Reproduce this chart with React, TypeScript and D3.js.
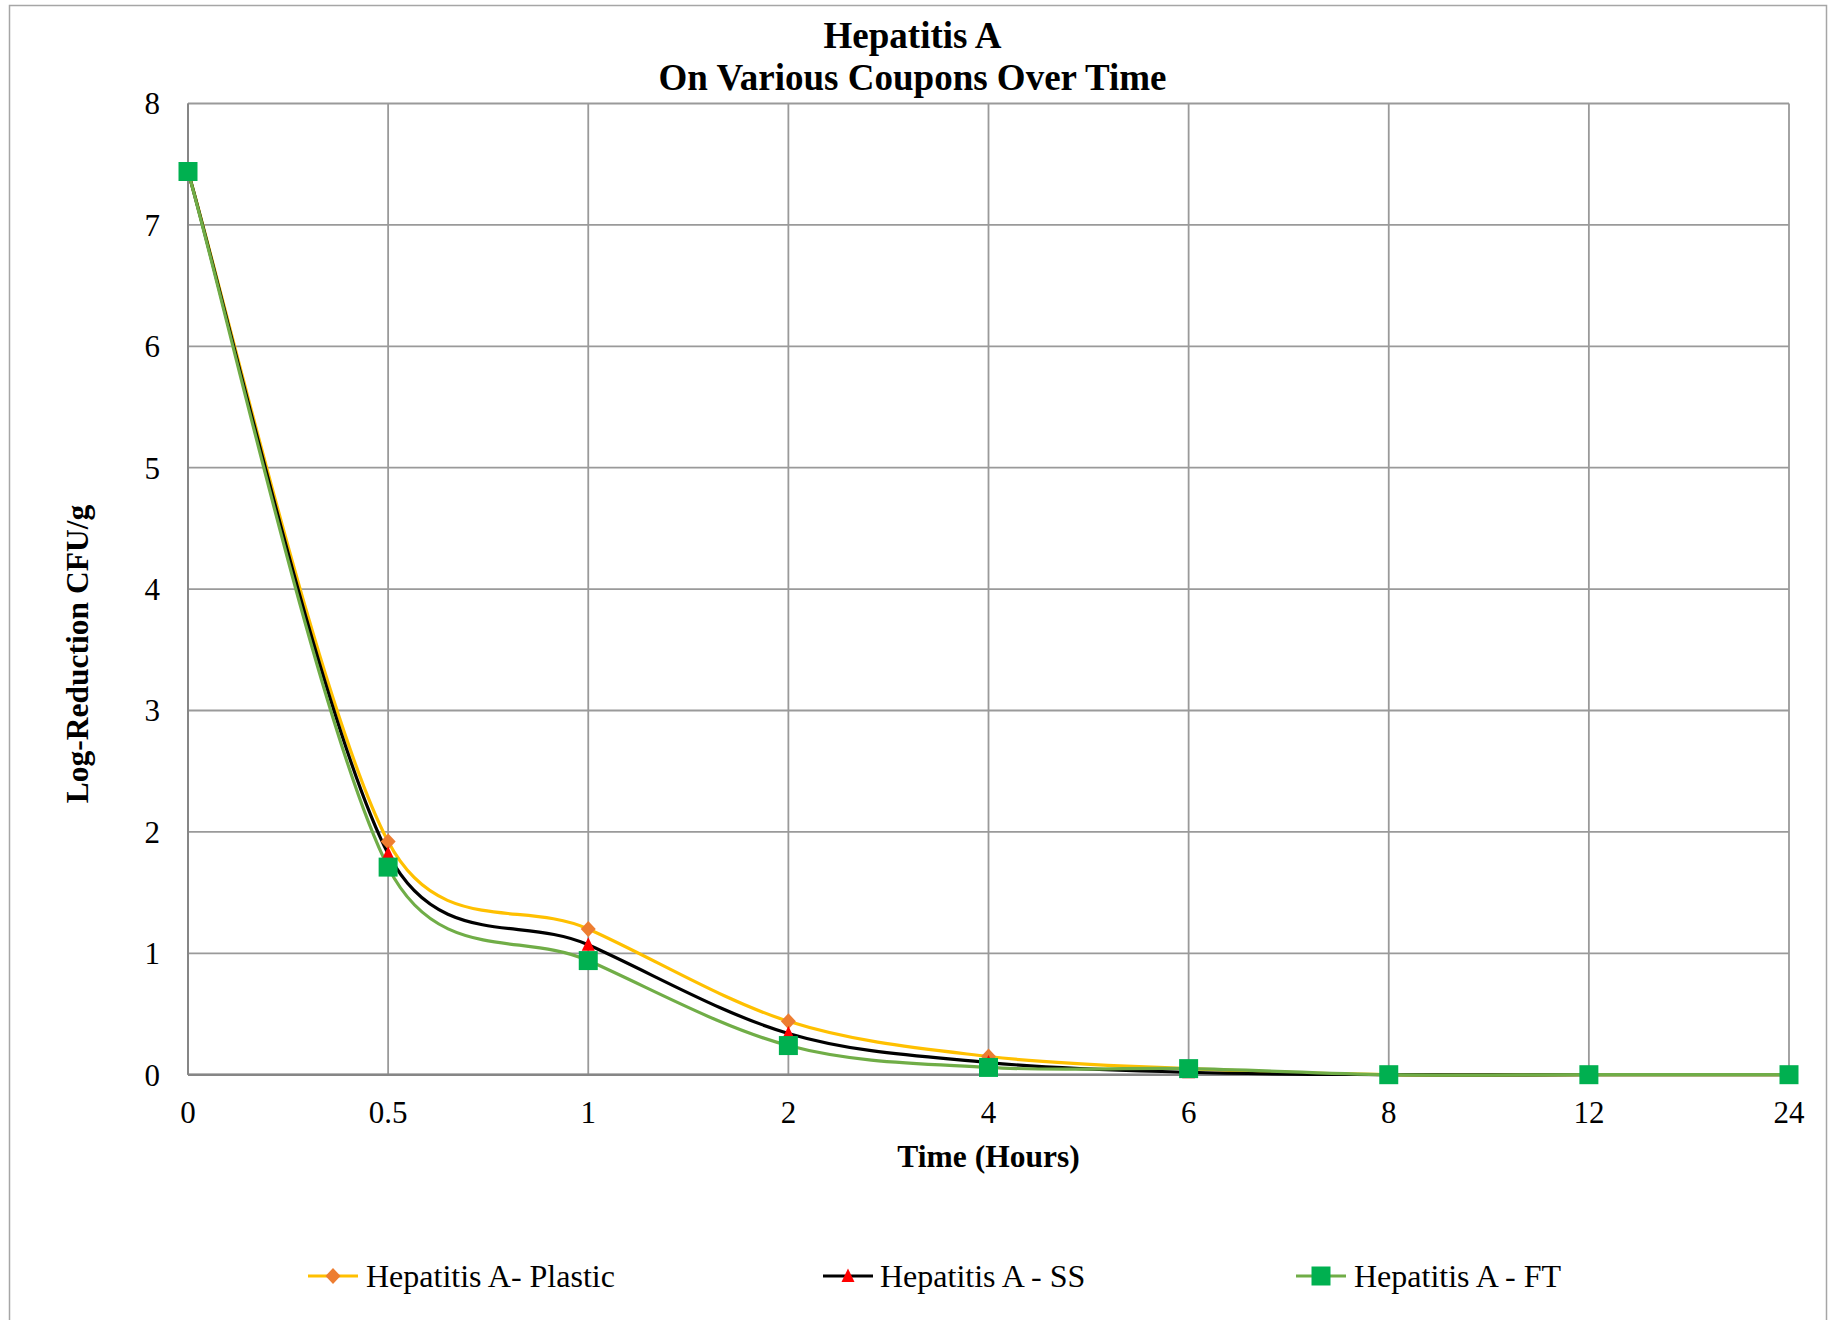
import React from "react";
import * as d3 from "d3";

const categories = ["0", "0.5", "1", "2", "4", "6", "8", "12", "24"];
const plasticValues = [7.44, 1.92, 1.2, 0.44, 0.15, 0.05, 0, 0, 0];
const ssValues = [7.44, 1.82, 1.07, 0.34, 0.1, 0.02, 0, 0, 0];
const ftValues = [7.44, 1.71, 0.94, 0.24, 0.06, 0.05, 0, 0, 0];
const yTicks = [0, 1, 2, 3, 4, 5, 6, 7, 8];
const seriesNames = ["Hepatitis A- Plastic", "Hepatitis A - SS", "Hepatitis A - FT"];

const W = 1835;
const H = 1320;
const FONT = "'Liberation Serif', 'Times New Roman', serif";

const left = 188;
const right = 1789;
const top = 103.5;
const bottom = 1074.7;

const x = d3.scalePoint<string>().domain(categories).range([left, right]).padding(0);
const y = d3.scaleLinear().domain([0, 8]).range([bottom, top]);

// Excel-style smoothed line (Bezier with limited control-point lengths)
function excelSmooth(values: number[]): string {
  const pts = values.map((v, i) => [x(categories[i]) as number, y(v)] as [number, number]);
  const p = d3.path();
  const dist = (a: [number, number], b: [number, number]) => Math.hypot(a[0] - b[0], a[1] - b[1]);
  p.moveTo(pts[0][0], pts[0][1]);
  for (let i = 0; i < pts.length - 1; i++) {
    const P0 = pts[Math.max(0, i - 1)];
    const P1 = pts[i];
    const P2 = pts[i + 1];
    const P3 = pts[Math.min(pts.length - 1, i + 2)];
    const d02 = dist(P0, P2);
    const d12 = dist(P1, P2);
    const d13 = dist(P1, P3);
    let f1 = 1 / 6;
    let f2 = 1 / 6;
    if (d02 / 6 >= d12 / 2 && d02 > 0) f1 = d12 / (2 * d02);
    if (d13 / 6 >= d12 / 2 && d13 > 0) f2 = d12 / (2 * d13);
    const c1x = P1[0] + f1 * (P2[0] - P0[0]);
    const c1y = P1[1] + f1 * (P2[1] - P0[1]);
    const c2x = P2[0] - f2 * (P3[0] - P1[0]);
    const c2y = P2[1] - f2 * (P3[1] - P1[1]);
    p.bezierCurveTo(c1x, c1y, c2x, c2y, P2[0], P2[1]);
  }
  return p.toString();
}

type Marker = "diamond" | "triangle" | "square";

const series = [
  { name: seriesNames[0], values: plasticValues, stroke: "#FFC000", marker: "diamond" as Marker, fill: "#ED7D31" },
  { name: seriesNames[1], values: ssValues, stroke: "#000000", marker: "triangle" as Marker, fill: "#FF0000" },
  { name: seriesNames[2], values: ftValues, stroke: "#70AD47", marker: "square" as Marker, fill: "#00B050" },
];

function markerPath(m: Marker, cx: number, cy: number) {
  if (m === "diamond") {
    return `M${cx},${cy - 8}L${cx + 7.5},${cy}L${cx},${cy + 8}L${cx - 7.5},${cy}Z`;
  }
  if (m === "triangle") {
    return `M${cx},${cy - 7.5}L${cx + 6.5},${cy + 6}L${cx - 6.5},${cy + 6}Z`;
  }
  return `M${cx - 9.5},${cy - 9.5}h19v19h-19Z`;
}

const legendItems = [
  { lineX: 308, textX: 366 },
  { lineX: 823, textX: 880 },
  { lineX: 1296, textX: 1354 },
];

export default function App() {
  return (
    <div style={{ position: "absolute", left: 0, top: 0 }}>
      <svg width={W} height={H} style={{ display: "block", background: "#fff" }}>
        <rect x={9.5} y={5.5} width={1817} height={1340} fill="#fff" stroke="#A6A6A6" strokeWidth={1.5} />
        {yTicks.map((t) => (
          <line key={"h" + t} x1={left} x2={right} y1={y(t)} y2={y(t)} stroke="#9A9A9A" strokeWidth={1.8} />
        ))}
        {categories.map((c) => (
          <line key={"v" + c} x1={x(c)} x2={x(c)} y1={top} y2={bottom} stroke="#9A9A9A" strokeWidth={1.8} />
        ))}
        <line x1={left} x2={right} y1={bottom} y2={bottom} stroke="#868686" strokeWidth={2.5} />
        <line x1={left} x2={left} y1={top} y2={bottom} stroke="#868686" strokeWidth={2} />
        {yTicks.map((t) => (
          <text key={"yt" + t} x={160} y={y(t)} dy="0.35em" textAnchor="end" fontFamily={FONT} fontSize={31} fill="#000">
            {t}
          </text>
        ))}
        {categories.map((c) => (
          <text key={"xt" + c} x={x(c)} y={1112} dy="0.35em" textAnchor="middle" fontFamily={FONT} fontSize={31} fill="#000">
            {c}
          </text>
        ))}
        <text x={912.5} y={35} dy="0.35em" textAnchor="middle" fontFamily={FONT} fontSize={37} fontWeight="bold">
          Hepatitis A
        </text>
        <text x={912.5} y={77} dy="0.35em" textAnchor="middle" fontFamily={FONT} fontSize={37} fontWeight="bold">
          On Various Coupons Over Time
        </text>
        <text x={(left + right) / 2} y={1156} dy="0.35em" textAnchor="middle" fontFamily={FONT} fontSize={31.5} fontWeight="bold">
          Time (Hours)
        </text>
        <text
          transform={`translate(77,654) rotate(-90)`}
          dy="0.35em"
          textAnchor="middle"
          fontFamily={FONT}
          fontSize={31.5}
          fontWeight="bold"
        >
          Log-Reduction CFU/g
        </text>
        {series.map((s) => (
          <path key={"l" + s.name} d={excelSmooth(s.values)} fill="none" stroke={s.stroke} strokeWidth={3.2} strokeLinejoin="round" />
        ))}
        {series.map((s) =>
          s.values.map((v, i) => (
            <path key={s.name + i} d={markerPath(s.marker, x(categories[i]) as number, y(v))} fill={s.fill} />
          ))
        )}
        {series.map((s, i) => {
          const it = legendItems[i];
          const ly = 1276;
          return (
            <g key={"lg" + i}>
              <line x1={it.lineX} x2={it.lineX + 50} y1={ly} y2={ly} stroke={s.stroke} strokeWidth={3.2} />
              <path d={markerPath(s.marker, it.lineX + 25, ly)} fill={s.fill} />
              <text x={it.textX} y={ly} dy="0.35em" fontFamily={FONT} fontSize={32} fill="#000">
                {s.name}
              </text>
            </g>
          );
        })}
      </svg>
    </div>
  );
}
